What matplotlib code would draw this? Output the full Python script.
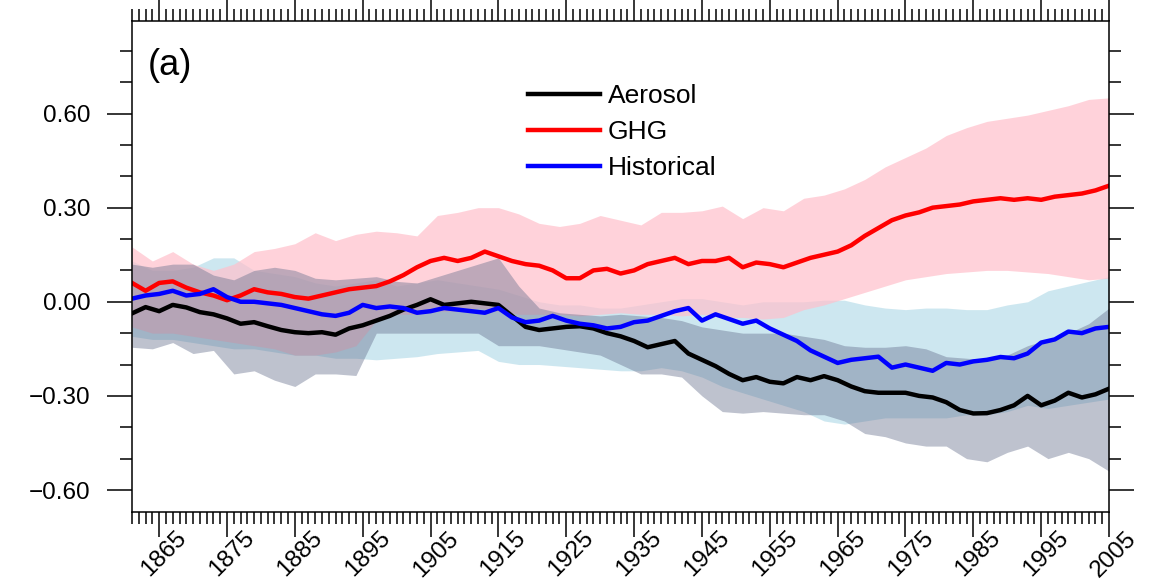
import numpy as np
import matplotlib
matplotlib.use("Agg")
import matplotlib.pyplot as plt
from matplotlib.ticker import MultipleLocator, FixedLocator
import matplotlib.transforms as mtransforms

plt.rcParams['font.family'] = ['Liberation Sans', 'DejaVu Sans']
plt.rcParams['axes.unicode_minus'] = True

# ensemble mean lines, every 2 years
line_years = list(range(1861, 2006, 2))
ghg = [0.06, 0.035, 0.06, 0.065, 0.045, 0.03, 0.02, 0.005, 0.02, 0.04,
       0.03, 0.025, 0.015, 0.01, 0.02, 0.03, 0.04, 0.045, 0.05, 0.065,
       0.085, 0.11, 0.13, 0.14, 0.13, 0.14, 0.16, 0.145, 0.13, 0.12,
       0.115, 0.10, 0.075, 0.075, 0.10, 0.105, 0.09, 0.10, 0.12, 0.13,
       0.14, 0.12, 0.13, 0.13, 0.14, 0.11, 0.125, 0.12, 0.11, 0.125,
       0.14, 0.15, 0.16, 0.18, 0.21, 0.235, 0.26, 0.275, 0.285, 0.30,
       0.305, 0.31, 0.32, 0.325, 0.33, 0.325, 0.33, 0.325, 0.335, 0.34,
       0.345, 0.355, 0.37]
historical = [0.01, 0.02, 0.025, 0.035, 0.02, 0.025, 0.04, 0.015, 0.0, 0.0,
              -0.005, -0.01, -0.02, -0.03, -0.04, -0.045, -0.035, -0.01, -0.02, -0.015,
              -0.02, -0.035, -0.03, -0.02, -0.025, -0.03, -0.035, -0.02, -0.05, -0.065,
              -0.06, -0.045, -0.06, -0.07, -0.075, -0.085, -0.08, -0.065, -0.06, -0.045,
              -0.03, -0.02, -0.06, -0.04, -0.055, -0.07, -0.06, -0.085, -0.105, -0.125,
              -0.155, -0.175, -0.195, -0.185, -0.18, -0.175, -0.21, -0.20, -0.21, -0.22,
              -0.195, -0.20, -0.19, -0.185, -0.176, -0.18, -0.165, -0.13, -0.12, -0.095,
              -0.10, -0.085, -0.08]
aerosol = [-0.037, -0.017, -0.03, -0.01, -0.018, -0.033, -0.04, -0.053, -0.07, -0.065,
           -0.078, -0.09, -0.097, -0.10, -0.097, -0.105, -0.085, -0.075, -0.06, -0.045,
           -0.025, -0.01, 0.008, -0.01, -0.005, 0.0, -0.005, -0.01, -0.045, -0.08,
           -0.09, -0.085, -0.08, -0.078, -0.085, -0.10, -0.11, -0.125, -0.145, -0.135,
           -0.125, -0.165, -0.185, -0.205, -0.23, -0.25, -0.24, -0.255, -0.26, -0.24,
           -0.25, -0.237, -0.25, -0.27, -0.285, -0.29, -0.29, -0.29, -0.30, -0.305,
           -0.32, -0.345, -0.356, -0.355, -0.345, -0.33, -0.30, -0.33, -0.315, -0.29,
           -0.305, -0.295, -0.277]

# spread envelopes, every 3 years
band_years = list(range(1861, 2006, 3))
ghg_hi = [0.175, 0.13, 0.16, 0.12, 0.10, 0.12, 0.16, 0.17, 0.185, 0.22,
          0.195, 0.215, 0.225, 0.22, 0.21, 0.275, 0.285, 0.30, 0.30, 0.28,
          0.25, 0.24, 0.25, 0.275, 0.26, 0.245, 0.285, 0.285, 0.29, 0.305,
          0.265, 0.30, 0.29, 0.33, 0.34, 0.36, 0.39, 0.43, 0.46, 0.49,
          0.53, 0.555, 0.575, 0.585, 0.595, 0.61, 0.625, 0.645, 0.65]
ghg_lo = [-0.08, -0.10, -0.10, -0.11, -0.12, -0.13, -0.14, -0.15, -0.17, -0.17,
          -0.16, -0.14, -0.06, -0.04, -0.04, -0.03, -0.03, -0.02, -0.03, -0.04,
          -0.04, -0.04, -0.045, -0.04, -0.035, -0.04, -0.04, -0.045, -0.04, -0.05,
          -0.05, -0.055, -0.05, -0.025, -0.01, 0.01, 0.03, 0.05, 0.07, 0.08,
          0.09, 0.095, 0.10, 0.10, 0.095, 0.09, 0.08, 0.07, 0.075]
hist_hi = [0.13, 0.10, 0.10, 0.11, 0.14, 0.14, 0.10, 0.09, 0.08, 0.06,
           0.05, 0.06, 0.07, 0.05, 0.06, 0.07, 0.06, 0.05, 0.04, 0.02,
           0.0, -0.01, -0.01, -0.02, -0.02, -0.01, 0.0, 0.01, 0.01, 0.0,
           -0.01, 0.0, 0.0, 0.0, 0.005, 0.005, -0.01, -0.02, -0.025, -0.02,
           -0.02, -0.025, -0.025, -0.01, 0.0, 0.035, 0.05, 0.065, 0.08]
hist_lo = [-0.11, -0.12, -0.12, -0.13, -0.14, -0.15, -0.15, -0.16, -0.17, -0.17,
           -0.18, -0.18, -0.185, -0.18, -0.175, -0.165, -0.16, -0.155, -0.19, -0.20,
           -0.20, -0.205, -0.21, -0.215, -0.22, -0.22, -0.21, -0.22, -0.24, -0.27,
           -0.29, -0.31, -0.33, -0.35, -0.38, -0.39, -0.38, -0.37, -0.37, -0.37,
           -0.37, -0.36, -0.36, -0.35, -0.33, -0.34, -0.33, -0.32, -0.31]
aer_hi = [0.12, 0.11, 0.12, 0.12, 0.085, 0.07, 0.10, 0.11, 0.10, 0.075,
          0.07, 0.075, 0.08, 0.065, 0.06, 0.08, 0.10, 0.12, 0.14, 0.05,
          -0.02, -0.035, -0.04, -0.045, -0.04, -0.045, -0.05, -0.06, -0.08, -0.09,
          -0.10, -0.10, -0.10, -0.11, -0.12, -0.14, -0.145, -0.145, -0.14, -0.15,
          -0.175, -0.18, -0.185, -0.17, -0.14, -0.12, -0.10, -0.07, -0.02]
aer_lo = [-0.145, -0.15, -0.13, -0.165, -0.155, -0.23, -0.22, -0.25, -0.27, -0.23,
          -0.23, -0.235, -0.10, -0.10, -0.10, -0.10, -0.10, -0.10, -0.14, -0.14,
          -0.14, -0.15, -0.16, -0.17, -0.20, -0.23, -0.23, -0.24, -0.30, -0.35,
          -0.355, -0.35, -0.355, -0.36, -0.36, -0.38, -0.42, -0.43, -0.45, -0.46,
          -0.46, -0.50, -0.51, -0.48, -0.46, -0.50, -0.48, -0.50, -0.54]

fig = plt.figure(figsize=(11.59, 5.88), dpi=100)
ax = fig.add_axes([0.1139, 0.1293, 0.8430, 0.8350])

ax.fill_between(band_years, hist_lo, hist_hi, color=(173/255, 216/255, 230/255), alpha=0.6, lw=0)
ax.fill_between(band_years, ghg_lo, ghg_hi, color=(1.0, 192/255, 203/255), alpha=0.7, lw=0)
ax.fill_between(band_years, aer_lo, aer_hi, color=(100/255, 110/255, 140/255), alpha=0.42, lw=0)

ax.plot(line_years, aerosol, color='black', lw=3.2, label='Aerosol')
ax.plot(line_years, ghg, color='red', lw=3.2, label='GHG')
ax.plot(line_years, historical, color='blue', lw=3.2, label='Historical')

ax.set_xlim(1861, 2005)
ax.set_ylim(-0.67, 0.895)

ax.xaxis.set_major_locator(FixedLocator(list(range(1865, 2006, 10))))
ax.xaxis.set_minor_locator(MultipleLocator(1))
ax.yaxis.set_minor_locator(MultipleLocator(0.1))
ax.set_yticks([-0.6, -0.3, 0.0, 0.3, 0.6])
ax.set_yticklabels(['\u22120.60', '\u22120.30', '0.00', '0.30', '0.60'])

ax.tick_params(which='both', direction='out', top=True, right=True, width=1.1, colors='black')
ax.tick_params(which='major', length=18, labelsize=17.5)
ax.tick_params(which='minor', length=8.5)
ax.tick_params(axis='y', which='major', pad=12)
ax.tick_params(axis='x', which='major', pad=-7)

offset = mtransforms.ScaledTranslation(0.05, 0, fig.dpi_scale_trans)
for lab in ax.get_xticklabels():
    lab.set_rotation(45)
    lab.set_ha('center')
    lab.set_va('top')
    lab.set_transform(lab.get_transform() + offset)

for s in ax.spines.values():
    s.set_linewidth(1.1)

ax.text(0.016, 0.945, '(a)', transform=ax.transAxes, fontsize=26, va='top', ha='left')

ax.legend(loc='upper left', bbox_to_anchor=(0.395, 0.893), frameon=False,
          fontsize=19, handlelength=2.7, handletextpad=0.3, labelspacing=0.45,
          borderaxespad=0)

fig.savefig('out.png', dpi=100)
